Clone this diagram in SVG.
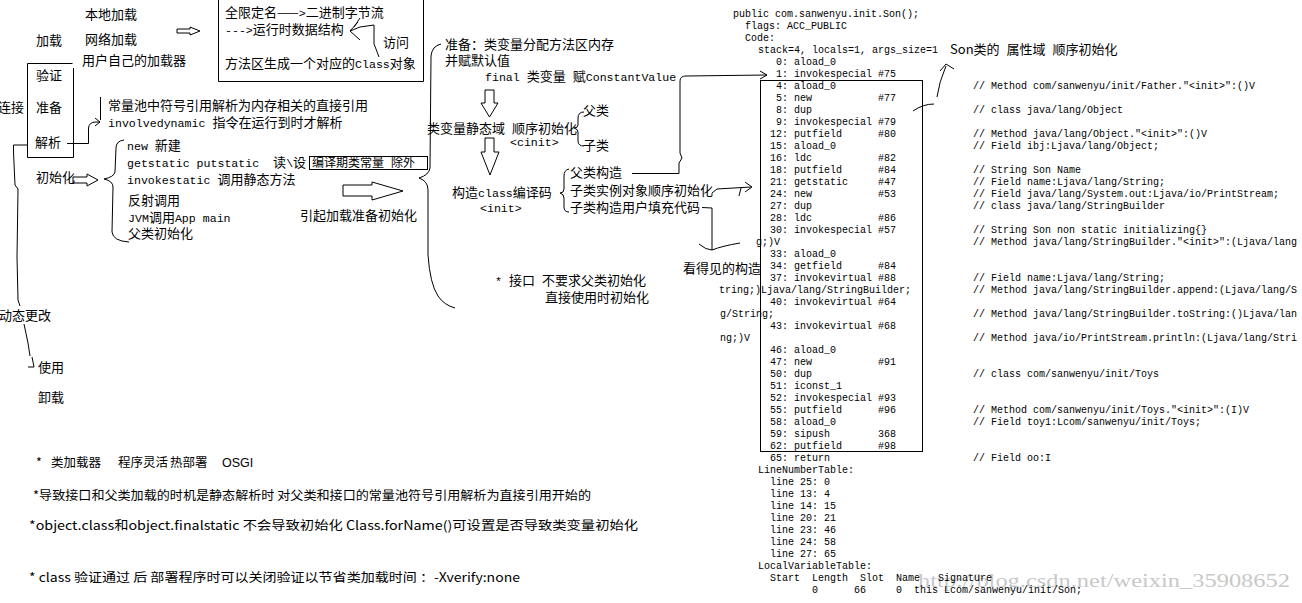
<svg xmlns="http://www.w3.org/2000/svg" width="1302" height="603" viewBox="0 0 1302 603" xml:space="preserve">
<style>
text{white-space:pre}
.cn{font-family:"Noto Sans CJK SC","Noto Sans CJK JP",sans-serif;font-size:13px;fill:#000}
.mo{font-family:"Liberation Mono","DejaVu Sans Mono",monospace;font-size:11.6px}
.bc{font-family:"Liberation Mono","DejaVu Sans Mono",monospace;font-size:10px;fill:#000}
.nt{font-family:"Noto Sans CJK SC","Noto Sans CJK JP",sans-serif;font-size:12.5px;fill:#000}
.ln{fill:none;stroke:#000;stroke-width:1}
.wm{font-family:"Liberation Serif",serif;font-size:19px;fill:#c8c8c8}
</style>
<rect width="1302" height="603" fill="#fff"/>

<g id="loading">
<text class="cn" x="85" y="19">本地加载</text>
<text class="cn" x="36" y="45">加载</text>
<text class="cn" x="85" y="44">网络加载</text>
<text class="cn" x="82" y="65">用户自己的加载器</text>
</g>

<g id="load-box">
<path class="ln" d="M218.5 0 L218.5 81.5 L423.5 81.5 L423.5 0"/>
<text class="cn" x="225" y="17">全限定名——<tspan class="mo">&gt;</tspan>二进制字节流</text>
<text class="cn" x="225" y="34"><tspan class="mo">---&gt;</tspan>运行时数据结构</text>
<text class="cn" x="225" y="68">方法区生成一个对应的<tspan class="mo">Class</tspan>对象</text>
<text class="cn" x="383" y="47">访问</text>
</g>

<g id="linking">
<text class="cn" x="-2" y="112">连接</text>
<path class="ln" d="M72.5 63.5 L27.5 63.5 L27.5 157.5 L73.5 157.5 L73.5 68"/>
<text class="cn" x="36" y="80">验证</text>
<text class="cn" x="36" y="112">准备</text>
<text class="cn" x="35" y="147">解析</text>
</g>

<g id="resolve">
<text class="cn" x="108" y="110">常量池中符号引用解析为内存相关的直接引用</text>
<text class="cn" x="108" y="127"><tspan class="mo">involvedynamic </tspan>指令在运行到时才解析</text>
</g>

<g id="initialize">
<text class="cn" x="36" y="182">初始化</text>
<text class="cn" x="127" y="150"><tspan class="mo">new </tspan>新建</text>
<text class="cn" x="127" y="167"><tspan class="mo">getstatic putstatic  </tspan>读<tspan class="mo">\</tspan>设</text>
<rect class="ln" x="309.5" y="156.5" width="118" height="13"/>
<text class="cn" x="312" y="167" style="font-size:12px">编译期类常量<tspan class="mo"> </tspan>除外</text>
<text class="cn" x="127" y="184"><tspan class="mo">invokestatic </tspan>调用静态方法</text>
<text class="cn" x="128" y="205">反射调用</text>
<text class="cn" x="128" y="222"><tspan class="mo">JVM</tspan>调用<tspan class="mo">App main</tspan></text>
<text class="cn" x="128" y="238">父类初始化</text>
<text class="cn" x="300" y="220">引起加载准备初始化</text>
</g>

<g id="lifecycle">
<text class="cn" x="-1" y="320">动态更改</text>
<text class="cn" x="38" y="372">使用</text>
<text class="cn" x="38" y="402">卸载</text>
</g>

<g id="prepare">
<text class="cn" x="445" y="49">准备：类变量分配方法区内存</text>
<text class="cn" x="445" y="65">并赋默认值</text>
<text class="cn" x="485" y="81"><tspan class="mo">final </tspan>类变量<tspan class="mo"> </tspan>赋<tspan class="mo">ConstantValue</tspan></text>
<text class="cn" x="427" y="133">类变量静态域<tspan class="mo"> </tspan>顺序初始化</text>
<text class="mo" x="510" y="146">&lt;cinit&gt;</text>
<text class="cn" x="583" y="115">父类</text>
<text class="cn" x="583" y="150">子类</text>
<text class="cn" x="452" y="197">构造<tspan class="mo">class</tspan>编译码</text>
<text class="mo" x="480" y="212">&lt;init&gt;</text>
<text class="cn" x="570" y="177">父类构造</text>
<text class="cn" x="570" y="195">子类实例对象顺序初始化</text>
<text class="cn" x="570" y="212">子类构造用户填充代码</text>
<text class="cn" x="683" y="273">看得见的构造</text>
<text class="cn" x="495" y="285"><tspan class="mo">* </tspan>接口<tspan class="mo"> </tspan>不要求父类初始化</text>
<text class="cn" x="545" y="302">直接使用时初始化</text>
</g>

<g id="notes">
<text class="nt" x="36" y="467"><tspan>*</tspan><tspan x="51">类加载器</tspan><tspan x="118">程序灵活</tspan><tspan x="170">热部署</tspan><tspan x="222" style="font-family:'Liberation Sans',sans-serif">OSGI</tspan></text>
<text class="nt" x="33" y="500" textLength="558" lengthAdjust="spacingAndGlyphs">*导致接口和父类加载的时机是静态解析时 对父类和接口的常量池符号引用解析为直接引用开始的</text>
<text class="nt" x="29" y="530" textLength="609" lengthAdjust="spacingAndGlyphs">*object.class和object.finalstatic 不会导致初始化 Class.forName()可设置是否导致类变量初始化</text>
<text class="nt" x="29" y="582" textLength="491" lengthAdjust="spacingAndGlyphs">* class 验证通过 后 部署程序时可以关闭验证以节省类加载时间 ：-Xverify:none</text>
</g>

<text class="wm" x="918" y="587" textLength="372" lengthAdjust="spacingAndGlyphs">http://blog.csdn.net/weixin_35908652</text>

<g id="bytecode" class="bc">
<rect class="ln" x="760.5" y="80.5" width="162" height="371"/>
<text x="733" y="17">public com.sanwenyu.init.Son();</text>
<text x="745" y="29">flags: ACC_PUBLIC</text>
<text x="745" y="41">Code:</text>
<text x="758" y="53">stack=4, locals=1, args_size=1</text>
<text class="cn" x="950" y="54">Son类的<tspan class="mo"> </tspan>属性域<tspan class="mo"> </tspan>顺序初始化</text>
<text x="770" y="65"> 0: aload_0</text>
<text x="770" y="77"> 1: invokespecial #75</text>
<text x="770" y="89"> 4: aload_0</text>
<text x="770" y="101"> 5: new</text><text x="878" y="101">#77</text>
<text x="770" y="113"> 8: dup</text>
<text x="770" y="125"> 9: invokespecial #79</text>
<text x="770" y="137">12: putfield</text><text x="878" y="137">#80</text>
<text x="770" y="149">15: aload_0</text>
<text x="770" y="161">16: ldc</text><text x="878" y="161">#82</text>
<text x="770" y="173">18: putfield</text><text x="878" y="173">#84</text>
<text x="770" y="185">21: getstatic</text><text x="878" y="185">#47</text>
<text x="770" y="197">24: new</text><text x="878" y="197">#53</text>
<text x="770" y="209">27: dup</text>
<text x="770" y="221">28: ldc</text><text x="878" y="221">#86</text>
<text x="770" y="233">30: invokespecial #57</text>
<text x="756" y="245">g;)V</text>
<text x="770" y="257">33: aload_0</text>
<text x="770" y="269">34: getfield</text><text x="878" y="269">#84</text>
<text x="770" y="281">37: invokevirtual #88</text>
<text x="719" y="293">tring;)Ljava/lang/StringBuilder;</text>
<text x="770" y="305">40: invokevirtual #64</text>
<text x="720" y="317">g/String;</text>
<text x="770" y="329">43: invokevirtual #68</text>
<text x="720" y="341">ng;)V</text>
<text x="770" y="353">46: aload_0</text>
<text x="770" y="365">47: new</text><text x="878" y="365">#91</text>
<text x="770" y="377">50: dup</text>
<text x="770" y="389">51: iconst_1</text>
<text x="770" y="401">52: invokespecial #93</text>
<text x="770" y="413">55: putfield</text><text x="878" y="413">#96</text>
<text x="770" y="425">58: aload_0</text>
<text x="770" y="437">59: sipush</text><text x="878" y="437">368</text>
<text x="770" y="449">62: putfield</text><text x="878" y="449">#98</text>
<text x="770" y="461">65: return</text>
<text x="758" y="473">LineNumberTable:</text>
<text x="770" y="485">line 25: 0</text>
<text x="770" y="497">line 13: 4</text>
<text x="770" y="509">line 14: 15</text>
<text x="770" y="521">line 20: 21</text>
<text x="770" y="533">line 23: 46</text>
<text x="770" y="545">line 24: 58</text>
<text x="770" y="557">line 27: 65</text>
<text x="758" y="569">LocalVariableTable:</text>
<text x="770" y="581">Start  Length  Slot  Name   Signature</text>
<text x="770" y="593">       0      66     0  this Lcom/sanwenyu/init/Son;</text>
<text x="973" y="89">// Method com/sanwenyu/init/Father."&lt;init&gt;":()V</text>
<text x="973" y="113">// class java/lang/Object</text>
<text x="973" y="137">// Method java/lang/Object."&lt;init&gt;":()V</text>
<text x="973" y="149">// Field ibj:Ljava/lang/Object;</text>
<text x="973" y="173">// String Son Name</text>
<text x="973" y="185">// Field name:Ljava/lang/String;</text>
<text x="973" y="197">// Field java/lang/System.out:Ljava/io/PrintStream;</text>
<text x="973" y="209">// class java/lang/StringBuilder</text>
<text x="973" y="233">// String Son non static initializing{}</text>
<text x="973" y="245">// Method java/lang/StringBuilder."&lt;init&gt;":(Ljava/lang</text>
<text x="973" y="281">// Field name:Ljava/lang/String;</text>
<text x="973" y="293">// Method java/lang/StringBuilder.append:(Ljava/lang/S</text>
<text x="973" y="317">// Method java/lang/StringBuilder.toString:()Ljava/lan</text>
<text x="973" y="341">// Method java/io/PrintStream.println:(Ljava/lang/Stri</text>
<text x="973" y="377">// class com/sanwenyu/init/Toys</text>
<text x="973" y="413">// Method com/sanwenyu/init/Toys."&lt;init&gt;":(I)V</text>
<text x="973" y="425">// Field toy1:Lcom/sanwenyu/init/Toys;</text>
<text x="973" y="461">// Field oo:I</text>
</g>

<g id="connectors" class="ln">
<polygon points="177,29 190,29 190,27 200,31 190,35 190,33 177,33"/>
<path d="M379 57 L376 49 L374 44 L374 25 L360 27 L350 31 M358 22 L350 31 L360 40 M360 18 L354 27"/>
<path d="M67 143.5 L88.5 143.5 L88.5 128 Q89 122 96 122 L100 122 M95 118 L100 122 L95 126"/>
<path d="M100.5 97 L100.5 120"/>
<path d="M27 145 L13.5 145 L13.5 152 L15 185 L18 189 L17 257 L18 300 L20 306"/>
<path d="M24 324 L28 343 L30 356 M32 357 L34 367 L28 367"/>
<polygon points="73,177 87,177 87,174 98,180 87,186 87,183 73,183"/>
<path d="M124 140 Q116 141 116 148 L115 172 Q114 177 104 179 Q113 181 113 187 L112 232 Q113 241 129 242"/>
<polygon points="343,185 372,185 372,182 403,191 372,200 372,196 343,196"/>
<path d="M441 44 Q432 46 431 56 L430 168 Q429 175 419 178 Q428 181 428 190 L428 255 Q430 284 438 296 Q444 305 455 308"/>
<polygon points="485,90 494,90 494,103 498,103 489.5,117 481,103 485,103"/>
<polygon points="485,138 494,138 494,152 499,152 490,175 481,152 485,152"/>
<path d="M584 112 Q578 112 578 118 L578 125 Q578 128 574 128 Q578 129 578 132 L578 141 Q578 146 584 146"/>
<path d="M569 169 Q564 170 564 176 L564 189 Q564 193 560 193 Q564 194 564 198 L564 207 Q564 212 569 212"/>
<path d="M632 173.5 L679 173.5 L679 163 L682 158 L680 153 L680 81 Q680 76 686 76 L767 75 M760 71 L767 75 L760 79"/>
<path d="M712 193 L717 189 L751 187 M745 182 L752 187 L745 192 M741 188 L739 196"/>
<path d="M702 207.5 L712 208 L712 250 M699 244 Q706 250 712 250 Q722 246 740 243"/>
<path d="M937 97 Q939 82 946 66 M940 71 L946 64 L954 69"/>
<path d="M913 111 Q923 104 934 104"/>
</g>
</svg>
